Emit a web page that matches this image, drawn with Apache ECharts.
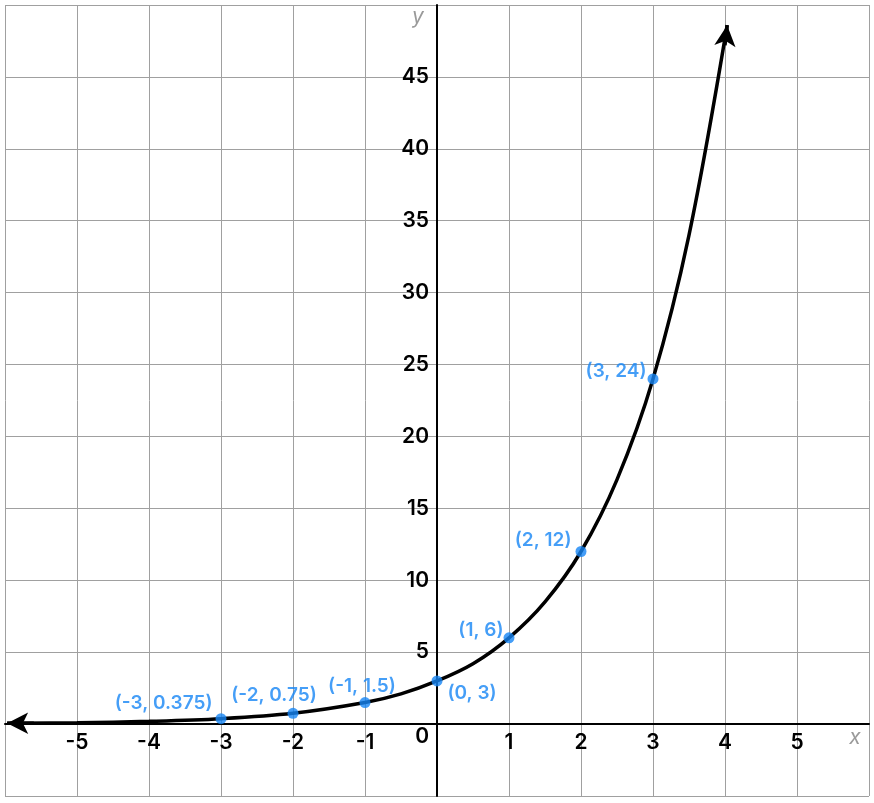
<!DOCTYPE html>
<html>
<head>
<meta charset="utf-8">
<style>
  html, body { margin: 0; padding: 0; background: #fff; }
  #chart { width: 874px; height: 803px; }
</style>
<script src="https://cdn.jsdelivr.net/npm/echarts@6/dist/echarts.min.js"></script>
</head>
<body>
<div id="chart"></div>
<script>
// ---- data ----
const curveX = [-5.97, -5, -4, -3, -2, -1, -0.5, 0, 0.5, 1, 1.5, 2, 2.5, 3, 3.5, 4.03];
const curveY = [0.05, 0.09, 0.19, 0.375, 0.75, 1.5, 2.1, 3, 4.2, 6, 8.5, 12, 17, 24, 34, 48.6];
const pointX = [-3, -2, -1, 0, 1, 2, 3];
const pointY = [0.375, 0.75, 1.5, 3, 6, 12, 24];
const pointLabels = ['(-3, 0.375)', '(-2, 0.75)', '(-1, 1.5)', '(0, 3)', '(1, 6)', '(2, 12)', '(3, 24)'];
const xTicks = [-5, -4, -3, -2, -1, 1, 2, 3, 4, 5];
const yTicks = [5, 10, 15, 20, 25, 30, 35, 40, 45];
// arrow segments (start -> tip)
const arrowTop = [[4.0, 47.2], [4.03, 48.6]];
const arrowLeft = [[-5.6, 0.06], [-5.97, 0.05]];

// label placement per point (style only)
const labelPlace = [
  { position: 'left', offset: [2, -15] },
  { position: 'top', offset: [-19, 2] },
  { position: 'top', offset: [-3, 4] },
  { position: 'right', offset: [0, 12] },
  { position: 'left', offset: [5, -8] },
  { position: 'left', offset: [1, -11] },
  { position: 'left', offset: [4, -8] }
];

const FONT = 'Inter, Lato, sans-serif';
const BLUE = '#1686f5';
const TICK = { color: '#000', fontSize: 21, fontWeight: 600, fontFamily: FONT };

const chart = echarts.init(document.getElementById('chart'), null, { renderer: 'canvas' });

const option = {
  animation: false,
  backgroundColor: '#fff',
  grid: { left: 5, right: 5, top: 5, bottom: 7, containLabel: false, outerBoundsMode: 'none' },
  xAxis: {
    type: 'value', min: -6, max: 6, interval: 1, position: 'bottom', offset: 0,
    axisLine: { onZero: false, lineStyle: { color: '#000', width: 2 } },
    axisTick: { show: false },
    splitLine: { show: true, lineStyle: { color: '#a0a0a0', width: 1 } },
    axisLabel: Object.assign({ show: true, margin: 8,
      formatter: v => xTicks.indexOf(v) >= 0 ? String(v) : '' }, TICK)
  },
  yAxis: {
    type: 'value', min: -5, max: 50, interval: 5, position: 'left', offset: 0,
    axisLine: { onZero: false, lineStyle: { color: '#000', width: 2 } },
    axisTick: { show: false },
    splitLine: { show: true, lineStyle: { color: '#a0a0a0', width: 1 } },
    axisLabel: Object.assign({ show: true, margin: 8,
      formatter: v => v === 0 ? '{z|0}' : (yTicks.indexOf(v) >= 0 ? String(v) : ''),
      rich: { z: Object.assign({ padding: [26, 0, 0, 0] }, TICK) } }, TICK)
  },
  series: [
    {
      type: 'line',
      data: curveX.map((x, i) => [x, curveY[i]]),
      smooth: 0.35,
      symbol: 'none',
      lineStyle: { color: '#000', width: 3.5 },
      z: 3,
      silent: true,
      markLine: {
        silent: true,
        symbol: ['none', 'arrow'],
        symbolSize: [16, 21],
        label: { show: false },
        lineStyle: { color: '#000', width: 3.5, type: 'solid' },
        data: [
          [{ coord: arrowTop[0] }, { coord: arrowTop[1] }],
          [{ coord: arrowLeft[0] }, { coord: arrowLeft[1] }]
        ]
      }
    },
    {
      type: 'scatter',
      symbolSize: 11,
      itemStyle: { color: BLUE },
      z: 5,
      data: pointX.map((x, i) => ({
        value: [x, pointY[i]],
        label: {
          show: true,
          formatter: pointLabels[i],
          position: labelPlace[i].position,
          offset: labelPlace[i].offset,
          distance: 5,
          color: BLUE,
          fontSize: 19,
          fontFamily: FONT,
          fontWeight: 600
        }
      }))
    }
  ]
};
chart.setOption(option);

// move the axes so they cross at zero (offset = pixel distance from grid edge to the zero line)
const origin = chart.convertToPixel({ gridIndex: 0 }, [0, 0]);
const corner = chart.convertToPixel({ gridIndex: 0 }, [-6, -5]);
chart.setOption({
  xAxis: { offset: -(corner[1] - origin[1]) },
  yAxis: { offset: -(origin[0] - corner[0]) }
});

// axis names as text placed relative to axis ends
const xEnd = chart.convertToPixel({ gridIndex: 0 }, [6, 0]);
const yEnd = chart.convertToPixel({ gridIndex: 0 }, [0, 50]);
chart.setOption({
  graphic: [
    { type: 'text', x: xEnd[0] - 14, y: xEnd[1] + 14,
      style: { text: 'x', fill: '#9a9a9a', fontSize: 21, fontStyle: 'italic', fontFamily: FONT, align: 'center', verticalAlign: 'middle' } },
    { type: 'text', x: yEnd[0] - 19, y: yEnd[1] + 12,
      style: { text: 'y', fill: '#9a9a9a', fontSize: 21, fontStyle: 'italic', fontFamily: FONT, align: 'center', verticalAlign: 'middle' } }
  ]
});
</script>
</body>
</html>
